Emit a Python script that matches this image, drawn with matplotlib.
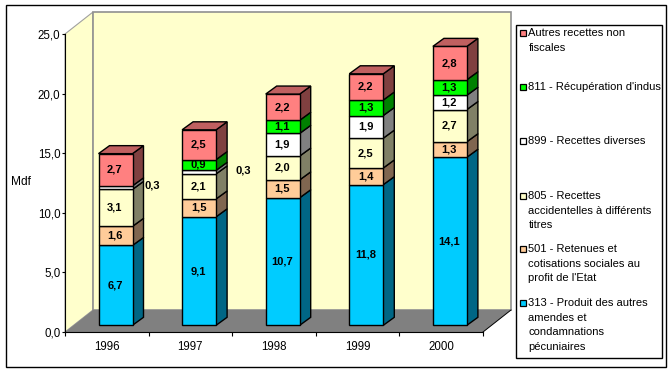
import matplotlib
matplotlib.use("Agg")
import matplotlib.pyplot as plt
from matplotlib.patches import Polygon, Rectangle

W, H = 672, 373

YEARS = ["1996", "1997", "1998", "1999", "2000"]
V_313 = [6.7, 9.1, 10.7, 11.8, 14.1]
V_501 = [1.6, 1.5, 1.5, 1.4, 1.3]
V_805 = [3.1, 2.1, 2.0, 2.5, 2.7]
V_899 = [0.3, 0.3, 1.9, 1.9, 1.2]
V_811 = [0.0, 0.9, 1.1, 1.3, 1.3]
V_AUT = [2.7, 2.5, 2.2, 2.2, 2.8]
SERIES = [V_313, V_501, V_805, V_899, V_811, V_AUT]

FRONT = ["#00CCFF", "#FFCC99", "#FFFFCC", "#FFFFFF", "#00FF00", "#FF8080"]
SIDE = ["#006685", "#806650", "#808066", "#808080", "#008000", "#804040"]
TOP_COLOR = "#C06060"

LEGEND = [
    ("#FF8080", ["Autres recettes non", "fiscales"], 33),
    ("#00FF00", ["811 - Récupération d'indus"], 87),
    ("#FFFFFF", ["899 - Recettes diverses"], 141),
    ("#FFFFCC", ["805 - Recettes", "accidentelles à différents", "titres"], 196),
    ("#FFCC99", ["501 - Retenues et", "cotisations sociales au", "profit de l'Etat"], 249),
    ("#00CCFF", ["313 - Produit des autres", "amendes et", "condamnations", "pécuniaires"], 303),
]

plt.rcParams["font.family"] = ["Liberation Sans", "DejaVu Sans"]

fig = plt.figure(figsize=(W / 100, H / 100), dpi=100)
fig.patch.set_facecolor("white")

# front plane of the 3D box, in pixels
X0, X1, Y0, Y1 = 65, 483, 332, 34
ax = fig.add_axes([X0 / W, 1 - Y0 / H, (X1 - X0) / W, (Y0 - Y1) / H])
ax.set_xlim(0, 5)
ax.set_ylim(0, 25)
ax.patch.set_visible(False)
px = 5 / (X1 - X0)
py = 25 / (Y0 - Y1)


def poly(points, fc, ec="none", lw=0.0, z=1):
    ax.add_patch(Polygon(points, closed=True, facecolor=fc, edgecolor=ec, linewidth=lw,
                         zorder=z, clip_on=False))


# walls and floor
WX, WY = 28 * px, 22 * py
poly([(0, 0), (WX, WY), (WX, 25 + WY), (0, 25)], "#FFFFCC", "#A0A0A0", 0.8)
poly([(WX, WY), (5 + WX, WY), (5 + WX, 25 + WY), (WX, 25 + WY)], "#FFFFCC", "#909090", 1.2)
poly([(0, 0), (5, 0), (5 + WX, WY), (WX, WY)], "#808080", "none")
ax.plot([5, 5 + WX], [0, WY], color="#000000", lw=0.7, clip_on=False, zorder=1.5)

# stacked bars with side and top faces
SHIFT_X, SHIFT_Y = 8.7 * px, 6.7 * py
DX, DY = 11 * px, 8 * py
BAR_W = 34 * px
for i, year in enumerate(YEARS):
    x = i + 0.5 + SHIFT_X
    left, right = x - BAR_W / 2, x + BAR_W / 2
    bottom = SHIFT_Y
    for s, vals in enumerate(SERIES):
        v = vals[i]
        if v <= 0:
            continue
        top = bottom + v
        poly([(right, bottom), (right + DX, bottom + DY), (right + DX, top + DY), (right, top)],
             SIDE[s], "black", 1.0, 2 + i)
        ax.bar(x, v, BAR_W, bottom=bottom, color=FRONT[s], edgecolor="black", linewidth=1.0,
               zorder=2.5 + i, clip_on=False)
        label = f"{v:.1f}".replace(".", ",")
        if v > 0.5:
            ax.text(x - 0.6 * px, bottom + v / 2, label, ha="center", va="center",
                    fontsize=8, fontweight="bold", zorder=20)
        else:
            # thin segments get their label out to the right of the bar
            ax.text(right + (20 if i == 0 else 27) * px, top, label, ha="center", va="center",
                    fontsize=8, fontweight="bold", zorder=20)
        bottom = top
    poly([(left, bottom), (right, bottom), (right + DX, bottom + DY), (left + DX, bottom + DY)],
         TOP_COLOR, "black", 1.0, 3 + i)

# axes
for name in ["top", "right"]:
    ax.spines[name].set_visible(False)
ax.spines["left"].set_linewidth(0.8)
ax.spines["bottom"].set_linewidth(0.8)
ax.set_yticks([0, 5, 10, 15, 20, 25])
ax.set_yticklabels(["0,0", "5,0", "10,0", "15,0", "20,0", "25,0"], fontsize=8.3)
ax.set_xticks([0, 1, 2, 3, 4, 5])
ax.set_xticklabels([])
ax.set_xticks([0.5, 1.5, 2.5, 3.5, 4.5], minor=True)
ax.set_xticklabels(YEARS, minor=True, fontsize=8.3)
ax.tick_params(axis="x", which="major", length=3.2, width=0.8)
ax.tick_params(axis="x", which="minor", length=0, pad=6.5)
ax.tick_params(axis="y", length=2.2, width=0.8, pad=1)


def to_fig(x, y):
    return x / W, 1 - y / H


fig.text(*to_fig(21, 182), "Mdf", ha="center", va="center", fontsize=8.6)

# outer frame and legend box
fig.add_artist(Rectangle(to_fig(5.5, 366.5), 660 / W, 361.5 / H, transform=fig.transFigure,
                         facecolor="none", edgecolor="black", linewidth=1.0))
fig.add_artist(Rectangle(to_fig(515.5, 358), 146.5 / W, 333 / H, transform=fig.transFigure,
                         facecolor="white", edgecolor="black", linewidth=1.0))
for color, lines, y in LEGEND:
    fig.add_artist(Rectangle(to_fig(519.5, y + 3), 6 / W, 6 / H, transform=fig.transFigure,
                             facecolor=color, edgecolor="black", linewidth=0.9))
    for k, line in enumerate(lines):
        fig.text(*to_fig(528.5, y + k * 14.6), line, ha="left", va="center", fontsize=8.05)

fig.savefig("out.png", dpi=100)
